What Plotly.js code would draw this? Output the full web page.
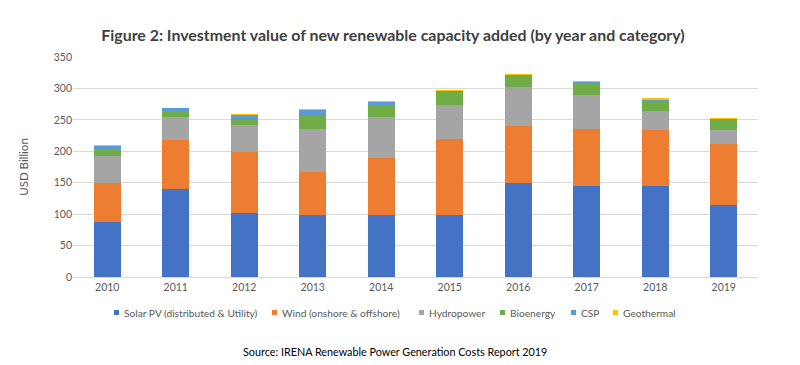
<!DOCTYPE html>
<html>
<head>
<meta charset="utf-8">
<script src="https://cdn.plot.ly/plotly-3.0.1.min.js"></script>
<style>html,body{margin:0;padding:0;background:#fff;}#chart{width:800px;height:365px;}</style>
</head>
<body>
<div id="chart"></div>
<script>
const years = ['2010','2011','2012','2013','2014','2015','2016','2017','2018','2019'];
const solarPV = [87, 140, 102, 98, 98, 98, 150, 145, 144, 115];
const wind = [62, 78, 97, 69, 92, 121, 90, 91, 90, 97];
const hydropower = [43, 37, 43, 69, 65, 55, 62, 54, 30, 22];
const bioenergy = [11, 9, 8, 21, 19, 20, 19, 19, 16, 15];
const csp = [6, 5, 7, 9, 4, 1.5, 0.5, 1, 2, 2];
const geothermal = [0.5, 0.5, 2, 1, 2, 2, 1, 1.5, 2, 2];
const yTicks = [0, 50, 100, 150, 200, 250, 300, 350];

const seriesNames = ['Solar PV (distributed & Utility)', 'Wind (onshore & offshore)', 'Hydropower', 'Bioenergy', 'CSP', 'Geothermal'];
const seriesValues = [solarPV, wind, hydropower, bioenergy, csp, geothermal];
const colors = ['#4472C4', '#ED7D31', '#A5A5A5', '#70AD47', '#5B9BD5', '#FFC000'];

// legend layout (pixel x of each label's left edge)
const legendTextPx = [122, 280, 427, 508, 579, 621];
const plotL = 73, plotW = 685, plotB = 277, plotH = 220;
const px2x = p => (p - plotL) / plotW;
const px2y = p => (plotB - p) / plotH;
const legendY = 313;

const font = 'Lato, "Open Sans", sans-serif';
const traces = seriesNames.map((n, i) => ({
  type: 'bar', name: n, x: years, y: seriesValues[i], showlegend: false,
  marker: {color: colors[i], line: {width: 0}}
}));

const annotations = [{text: 'Source: IRENA Renewable Power Generation Costs Report 2019', xref: 'paper', yref: 'paper',
  x: px2x(395), y: px2y(351), xanchor: 'center', yanchor: 'middle', showarrow: false,
  font: {size: 10.8, color: '#000'}}];
const shapes = [];
seriesNames.forEach((n, i) => {
  annotations.push({text: n, xref: 'paper', yref: 'paper', x: px2x(legendTextPx[i]), y: px2y(legendY),
    xanchor: 'left', yanchor: 'middle', showarrow: false, font: {size: 10.2, color: '#595959'}});
  shapes.push({type: 'rect', xref: 'paper', yref: 'paper', x0: px2x(legendTextPx[i] - 8), x1: px2x(legendTextPx[i] - 3),
    y0: px2y(legendY + 2), y1: px2y(legendY - 3), fillcolor: colors[i], line: {width: 0}});
});

const layout = {
  width: 800, height: 365, showlegend: false,
  barmode: 'stack', bargap: 0.6,
  margin: {l: 73, r: 42, t: 57, b: 88},
  paper_bgcolor: '#fff', plot_bgcolor: '#fff',
  font: {family: font, color: '#595959', size: 10},
  title: {text: '<b>Figure 2: Investment value of new renewable capacity added (by year and category)</b>',
    x: 393 / 800, xanchor: 'center', y: 1 - 35 / 365, yanchor: 'middle', yref: 'container',
    font: {family: font, size: 15.9, color: '#404040'}},
  xaxis: {type: 'category', showgrid: false, showline: true, linecolor: '#D9D9D9', ticks: '',
    tickfont: {size: 10.5, color: '#595959'}},
  yaxis: {range: [0, 350], tickvals: yTicks, showgrid: true, gridcolor: '#D9D9D9', zeroline: false,
    showline: false, ticks: '', tickfont: {size: 10.5, color: '#595959'}, automargin: true,
    title: {text: 'USD Billion', font: {size: 11.5, color: '#595959'}, standoff: 22}},
  annotations: annotations,
  shapes: shapes
};
Plotly.newPlot('chart', traces, layout, {displayModeBar: false, staticPlot: true});
</script>
</body>
</html>
